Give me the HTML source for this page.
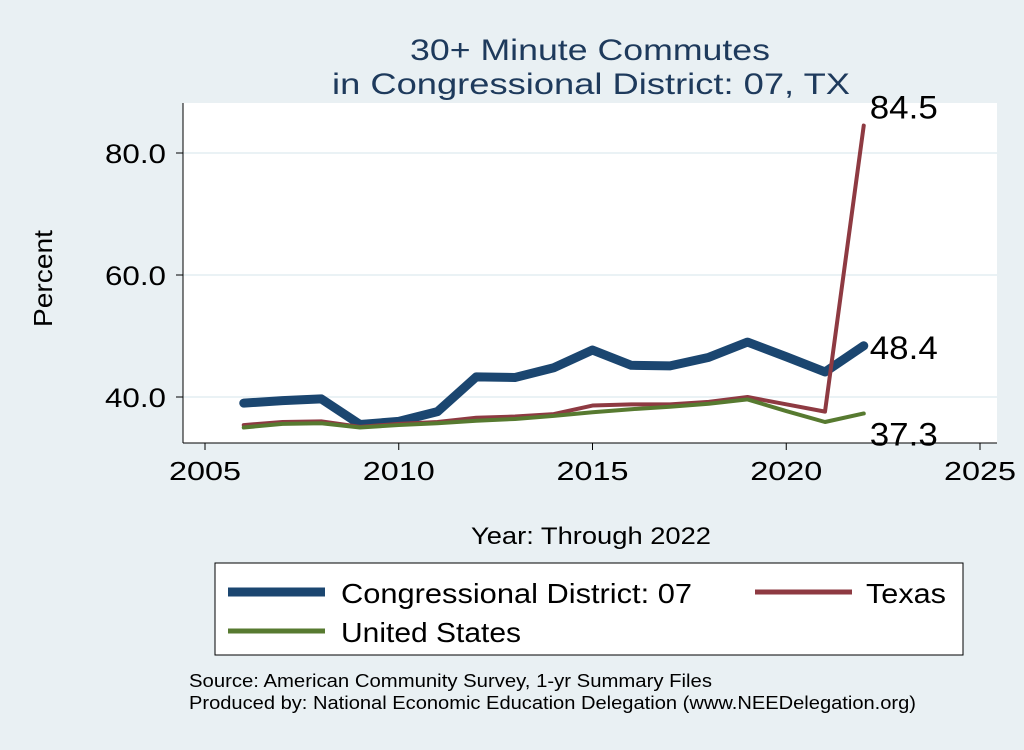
<!DOCTYPE html>
<html><head><meta charset="utf-8"><style>
body{margin:0;background:#e9f0f3;font-family:"Liberation Sans",Arial,sans-serif}
svg text{font-family:"Liberation Sans",Arial,sans-serif}
</style></head><body>
<svg width="1024" height="745" viewBox="0 0 1024 745">
<rect x="0" y="0" width="1024" height="745" fill="#e9f0f3"/>
<text x="410" y="60" font-size="30" fill="#1e3a5c" textLength="360" lengthAdjust="spacingAndGlyphs">30+ Minute Commutes</text>
<text x="332" y="94" font-size="30" fill="#1e3a5c" textLength="518" lengthAdjust="spacingAndGlyphs">in Congressional District:  07, TX</text>
<rect x="183" y="103" width="814" height="340" fill="#fff"/>
<g id="grid"></g>
<line x1="183" y1="103" x2="183" y2="443" stroke="#000"/>
<line x1="183" y1="443" x2="997" y2="443" stroke="#000"/>
<g id="ticks"></g>
<g id="series"></g>
<g id="labels"></g>
<text x="52" y="327" font-size="26" textLength="97" lengthAdjust="spacingAndGlyphs" transform="rotate(-90 52 327)">Percent</text>
<text x="471" y="544" font-size="24" textLength="240" lengthAdjust="spacingAndGlyphs">Year: Through 2022</text>
<rect x="215" y="563" width="748" height="92" fill="#fff" stroke="#000"/>
<g>
<line x1="228" y1="592" x2="325" y2="592" stroke="#1b4670" stroke-width="9"/>
<text x="341" y="603" font-size="28" textLength="351" lengthAdjust="spacingAndGlyphs">Congressional District:  07</text></g>
<g>
<line x1="755" y1="592" x2="852" y2="592" stroke="#8e3a42" stroke-width="5"/>
<text x="866" y="603" font-size="28" textLength="80" lengthAdjust="spacingAndGlyphs">Texas</text></g>
<g>
<line x1="228" y1="631" x2="325" y2="631" stroke="#577a30" stroke-width="5"/>
<text x="341" y="642" font-size="28" textLength="180" lengthAdjust="spacingAndGlyphs">United States</text></g>
<text x="189" y="687" font-size="18" textLength="523" lengthAdjust="spacingAndGlyphs">Source: American Community Survey, 1-yr Summary Files</text>
<text x="189" y="709" font-size="18" textLength="727" lengthAdjust="spacingAndGlyphs">Produced by: National Economic Education Delegation (www.NEEDelegation.org)</text>
</svg>
<script>
const years=[2006,2007,2008,2009,2010,2011,2012,2013,2014,2015,2016,2017,2018,2019,2020,2021,2022];
const district=[39.0,39.4,39.7,35.5,36.0,37.6,43.3,43.2,44.8,47.7,45.2,45.1,46.5,49.0,46.6,44.1,48.4];
const texas=[35.4,35.9,36.0,35.1,35.6,35.9,36.6,36.8,37.2,38.6,38.8,38.8,39.2,40.0,38.8,37.6,84.5];
const us=[35.0,35.6,35.7,35.0,35.4,35.7,36.1,36.4,36.9,37.5,38.0,38.4,38.9,39.6,37.7,35.9,37.3];
const xTicks=[2005,2010,2015,2020,2025];
const yTicks=[40,60,80];
const X=v=>205+(v-2005)*38.75;
const Y=v=>397-(v-40)*6.1;
const NS="http://www.w3.org/2000/svg";
function mk(tag,attrs,parent){const e=document.createElementNS(NS,tag);for(const k in attrs)e.setAttribute(k,attrs[k]);parent.appendChild(e);return e;}
const grid=document.getElementById('grid'),ticks=document.getElementById('ticks'),ser=document.getElementById('series'),lab=document.getElementById('labels');
yTicks.forEach(t=>{
 const g=mk('line',{x1:183,x2:997,y1:Y(t),y2:Y(t),stroke:'#e4eef2','stroke-width':1.5},grid);
 
 
 const tk=mk('line',{x1:176,x2:183,y1:Y(t),y2:Y(t),stroke:'#000'},ticks);
 
 
 const tx=mk('text',{x:166,y:Y(t)+10,'font-size':27,'text-anchor':'end',textLength:61,lengthAdjust:'spacingAndGlyphs'},ticks);
 tx.textContent=t.toFixed(1);
 
 
});
xTicks.forEach(t=>{
 const tk=mk('line',{x1:X(t),x2:X(t),y1:443,y2:450,stroke:'#000'},ticks);
 
 
 const tx=mk('text',{x:X(t),y:480,'font-size':26,'text-anchor':'middle',textLength:72,lengthAdjust:'spacingAndGlyphs'},ticks);
 tx.textContent=t;
 
 
});
function line(vals,color,w,name){
 const p=mk('polyline',{points:years.map((y,i)=>X(y)+','+Y(vals[i])).join(' '),fill:'none',stroke:color,'stroke-width':w,'stroke-linejoin':'round','stroke-linecap':'round'},ser);
 
 
}
line(district,'#1b4670',9,'district-line');
line(texas,'#8e3a42',4,'texas-line');
line(us,'#577a30',4,'us-line');
const last=years.length-1;
[[district,'district-end-label',13],[texas,'texas-end-label',-7],[us,'us-end-label',32]].forEach(([v,n,dy])=>{
 const t=mk('text',{x:X(years[last])+6,y:Y(v[last])+dy,'font-size':32,textLength:68,lengthAdjust:'spacingAndGlyphs'},lab);
 t.textContent=v[last].toFixed(1);
 
 
});
</script>
</body></html>
